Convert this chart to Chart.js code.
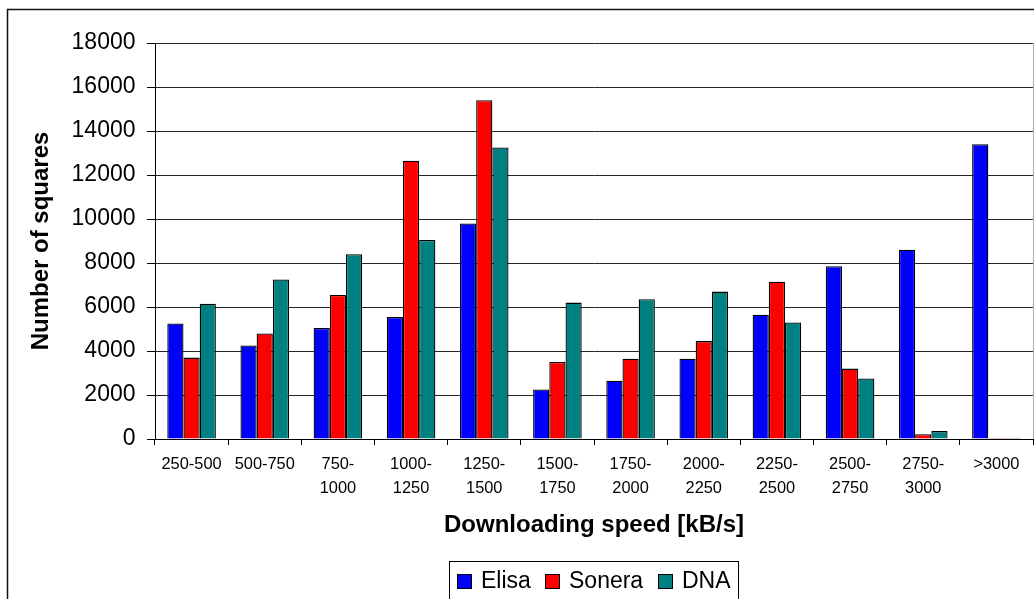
<!DOCTYPE html>
<html>
<head>
<meta charset="utf-8">
<title>Downloading speed</title>
<script src="https://cdn.jsdelivr.net/npm/chart.js@4/dist/chart.umd.min.js"></script>
<style>
  html, body { margin: 0; padding: 0; background: #fff; }
  canvas { display: block; }
</style>
</head>
<body>
<canvas id="chart" width="1034" height="599"></canvas>
<script>
// Speed classes (kB/s); two-part labels wrap onto two lines
const categories = [
  '250-500', '500-750', ['750-', '1000'], ['1000-', '1250'], ['1250-', '1500'],
  ['1500-', '1750'], ['1750-', '2000'], ['2000-', '2250'], ['2250-', '2500'],
  ['2500-', '2750'], ['2750-', '3000'], '>3000'
];

// Number of squares per speed class for each operator
const elisa  = [5250, 4250, 5050, 5550, 9800, 2250, 2650, 3650, 5650, 7850, 8600, 13400];
const sonera = [3700, 4800, 6550, 12650, 15400, 3500, 3650, 4450, 7150, 3200, 220, 40];
const dna    = [6150, 7250, 8400, 9050, 13250, 6200, 6350, 6700, 5300, 2750, 360, 40];

const seriesNames = ['Elisa', 'Sonera', 'DNA'];
const seriesColors = ['#0000ff', '#ff0000', '#008080'];

// Y axis range and step
const yMin = 0;
const yMax = 18000;
const yStep = 2000;

const FONT = "'Liberation Sans', Arial, Helvetica, sans-serif";

// Outer frame, right plot edge and boxed legend
const decorations = {
  id: 'decorations',
  afterDraw(chart) {
    const ctx = chart.ctx;
    const area = chart.chartArea;
    ctx.save();

    // plot area right edge
    ctx.strokeStyle = '#b0b0b0';
    ctx.lineWidth = 1;
    ctx.beginPath();
    ctx.moveTo(area.right + 0.5, area.top);
    ctx.lineTo(area.right + 0.5, area.bottom);
    ctx.stroke();

    // outer frame
    ctx.strokeStyle = '#111';
    ctx.lineWidth = 1.5;
    ctx.strokeRect(7.5, 9.5, 1200, 800);

    // legend box
    ctx.strokeStyle = '#000';
    ctx.lineWidth = 1;
    ctx.strokeRect(449.5, 561.5, 289, 80);

    const entries = [
      { sx: 457, tx: 481 },
      { sx: 545, tx: 569 },
      { sx: 658, tx: 682 }
    ];
    ctx.font = '23px ' + FONT;
    ctx.textBaseline = 'middle';
    ctx.textAlign = 'left';
    entries.forEach((e, i) => {
      ctx.fillStyle = seriesColors[i];
      ctx.fillRect(e.sx, 574, 15, 15);
      ctx.strokeStyle = '#000';
      ctx.strokeRect(e.sx + 0.5, 574.5, 14, 14);
      ctx.fillStyle = '#000';
      ctx.fillText(seriesNames[i], e.tx, 582);
    });
    ctx.restore();
  }
};

const makeSet = (label, data, color) => ({
  label,
  data,
  backgroundColor: color,
  borderColor: '#000',
  borderWidth: 1.3,
  categoryPercentage: 0.664,
  barPercentage: 1.0
});

new Chart(document.getElementById('chart'), {
  type: 'bar',
  data: {
    labels: categories,
    datasets: [
      makeSet(seriesNames[0], elisa, seriesColors[0]),
      makeSet(seriesNames[1], sonera, seriesColors[1]),
      makeSet(seriesNames[2], dna, seriesColors[2])
    ]
  },
  options: {
    responsive: false,
    animation: false,
    devicePixelRatio: 1,
    layout: { padding: { left: 0, right: 1, top: 43, bottom: 0 } },
    plugins: {
      legend: { display: false },
      tooltip: { enabled: false }
    },
    scales: {
      x: {
        offset: true,
        grid: {
          display: true,
          offset: true,
          drawOnChartArea: false,
          drawTicks: true,
          tickLength: 6,
          color: '#000',
          tickColor: '#000'
        },
        border: { display: true, color: '#000', width: 1 },
        ticks: {
          color: '#000',
          padding: 8,
          maxRotation: 0,
          minRotation: 0,
          autoSkip: false,
          font: { family: FONT, size: 16.4, lineHeight: 1.46 }
        },
        title: {
          display: true,
          text: 'Downloading speed [kB/s]',
          color: '#000',
          font: { family: FONT, size: 24, weight: 'bold', lineHeight: 1.2 },
          padding: { top: 0, bottom: 59.6 }
        },
        afterFit(scale) { scale.height = 160; }
      },
      y: {
        min: yMin,
        max: yMax,
        grid: {
          color: '#262626',
          tickColor: '#000',
          drawTicks: true,
          tickLength: 8
        },
        border: { display: true, color: '#000', width: 1 },
        ticks: {
          stepSize: yStep,
          color: '#000',
          padding: 11.5,
          font: { family: FONT, size: 23 },
          callback: (value) => String(value)
        },
        title: {
          display: true,
          text: 'Number of squares',
          color: '#000',
          font: { family: FONT, size: 24, weight: 'bold', lineHeight: 1.2 },
          padding: { top: 26.6, bottom: 0 }
        },
        afterFit(scale) { scale.width = 155; }
      }
    }
  },
  plugins: [decorations]
});
</script>
</body>
</html>
